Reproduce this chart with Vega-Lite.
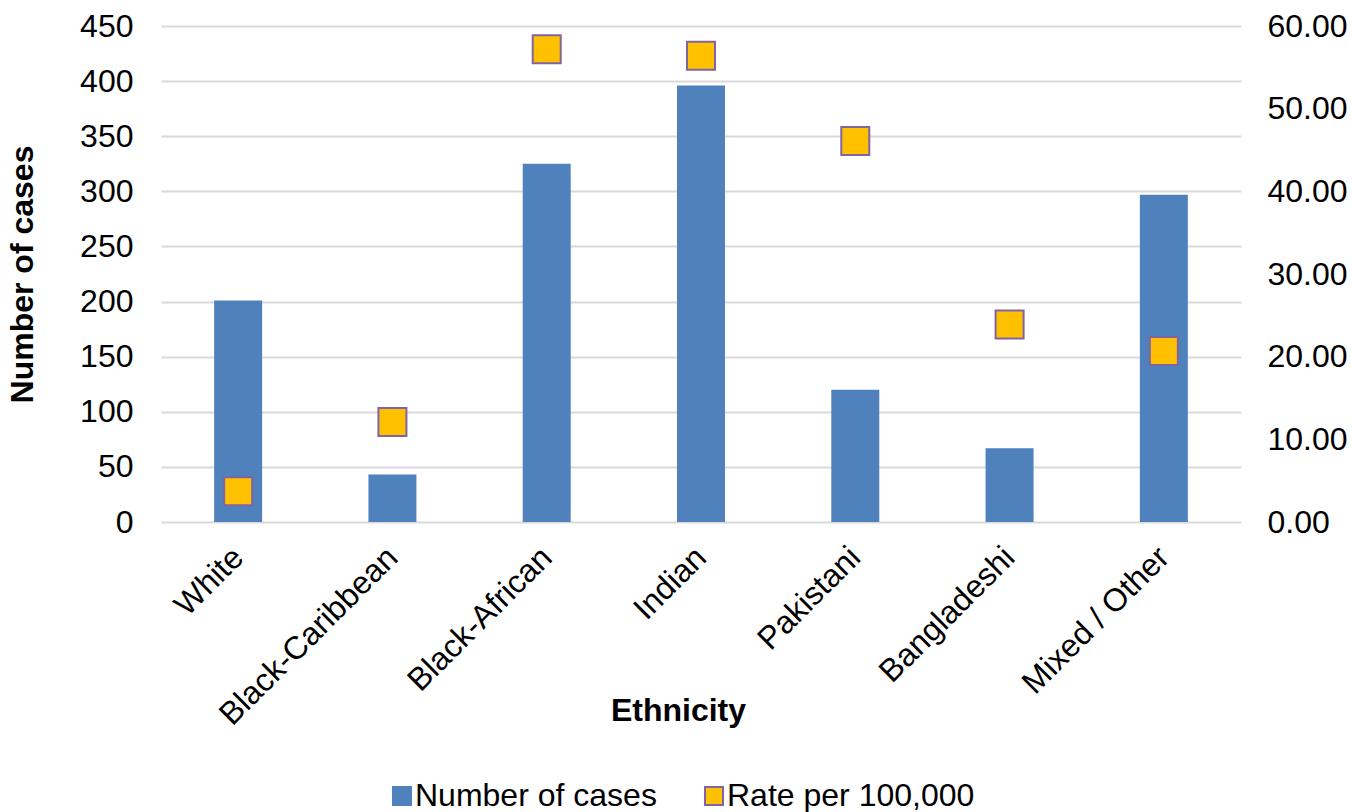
{
  "$schema": "https://vega.github.io/schema/vega-lite/v6.json",
  "width": 1080,
  "height": 496,
  "autosize": "none",
  "padding": {"left": 161, "top": 26, "right": 111, "bottom": 290},
  "background": "white",
  "config": {
    "font": "Liberation Sans",
    "view": {"stroke": null},
    "axis": {"labelColor": "#000000", "titleColor": "#000000", "labelFont": "Liberation Sans", "titleFont": "Liberation Sans"}
  },
  "data": {
    "values": [
      {"Ethnicity": "White", "Cases": 201, "Rate": 3.73},
      {"Ethnicity": "Black-Caribbean", "Cases": 43, "Rate": 12.1},
      {"Ethnicity": "Black-African", "Cases": 325, "Rate": 57.2},
      {"Ethnicity": "Indian", "Cases": 396, "Rate": 56.4},
      {"Ethnicity": "Pakistani", "Cases": 120, "Rate": 46.1},
      {"Ethnicity": "Bangladeshi", "Cases": 67, "Rate": 23.9},
      {"Ethnicity": "Mixed / Other", "Cases": 297, "Rate": 20.7}
    ]
  },
  "encoding": {
    "x": {
      "field": "Ethnicity",
      "type": "nominal",
      "sort": null,
      "scale": {"paddingInner": 0.689, "paddingOuter": 0.3445},
      "axis": {
        "title": "Ethnicity",
        "titleFontSize": 32,
        "titleFontWeight": "bold",
        "titleX": 517,
        "titleY": 188,
        "titleAlign": "center",
        "titleBaseline": "middle",
        "labelFontSize": 32,
        "labelAngle": -45,
        "labelAlign": "right",
        "labelBaseline": "middle",
        "labelPadding": 30,
        "labelLimit": 0,
        "ticks": false,
        "domain": false,
        "grid": false
      }
    }
  },
  "layer": [
    {
      "mark": {"type": "bar", "color": "#4F81BD"},
      "encoding": {
        "y": {
          "field": "Cases",
          "type": "quantitative",
          "scale": {"domain": [0, 450], "nice": false},
          "axis": {
            "title": "Number of cases",
            "titleFontSize": 32,
            "titleFontWeight": "bold",
            "titlePadding": 40,
            "labelFontSize": 32,
            "labelPadding": 28,
            "values": [0, 50, 100, 150, 200, 250, 300, 350, 400, 450],
            "format": "d",
            "ticks": false,
            "domain": false,
            "grid": true,
            "gridColor": "#D9D9D9",
            "gridWidth": 2
          }
        },
        "color": {
          "datum": "Number of cases",
          "type": "nominal",
          "scale": {"domain": ["Number of cases", "Rate per 100,000"], "range": ["#4F81BD", "#FFC000"]},
          "legend": {
            "title": null,
            "orient": "none",
            "legendX": 225,
            "legendY": 754,
            "direction": "horizontal",
            "symbolType": "square",
            "symbolSize": 324,
            "symbolStrokeWidth": 2,
            "labelFontSize": 32,
            "labelLimit": 0,
            "labelColor": "#000000",
            "labelOffset": -3,
            "columnPadding": 41,
            "encode": {
              "symbols": {
                "update": {
                  "stroke": [
                    {"test": "datum.value === 'Rate per 100,000'", "value": "#8064A2"},
                    {"value": "#4F81BD"}
                  ],
                  "strokeWidth": {"value": 2}
                }
              }
            }
          }
        }
      }
    },
    {
      "mark": {"type": "point", "shape": "square", "filled": true, "size": 784, "stroke": "#8064A2", "strokeWidth": 2, "opacity": 1},
      "encoding": {
        "y": {
          "field": "Rate",
          "type": "quantitative",
          "scale": {"domain": [0, 60], "nice": false},
          "axis": {
            "orient": "right",
            "title": null,
            "labelFontSize": 32,
            "labelPadding": 26,
            "values": [0, 10, 20, 30, 40, 50, 60],
            "format": ".2f",
            "ticks": false,
            "domain": false,
            "grid": false
          }
        },
        "color": {"datum": "Rate per 100,000", "type": "nominal"}
      }
    }
  ],
  "resolve": {"scale": {"y": "independent"}}
}
